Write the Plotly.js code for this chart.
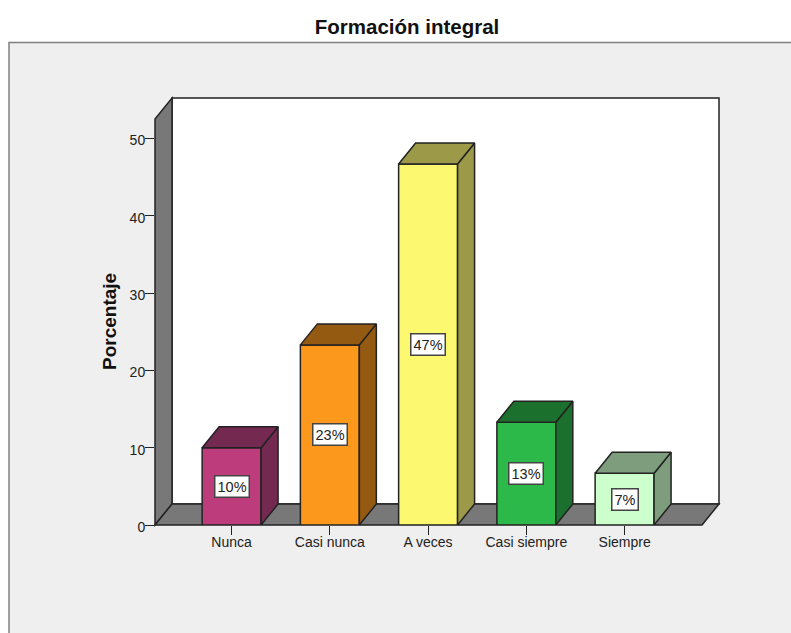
<!DOCTYPE html>
<html><head><meta charset="utf-8">
<script src="https://cdn.plot.ly/plotly-3.0.1.min.js"></script>
<style>html,body{margin:0;padding:0;background:#fff;overflow:hidden}</style>
</head><body><div id="chart" style="width:791px;height:633px"></div>
<script>
var categories = ["Nunca","Casi nunca","A veces","Casi siempre","Siempre"];
var values = [10, 23.3, 46.7, 13.3, 6.7];
var labels = ["10%","23%","47%","13%","7%"];
var frontColors = ["#bc3c7c","#fc991c","#fcf870","#2db84a","#ccffcc"];
var sideColors = ["#742a50","#955a12","#9c9a48","#1c702e","#7d9d7d"];
var yTicks = [0,10,20,30,40,50];

var W=791,H=633,L=155,R=719,T=98,B=525;
var pxCat=98.25, pxUnit=7.73, cx0=231.6, depthX=17, depthY=21, barW=0.6;
var dxU=depthX/pxCat, dyU=depthY/pxUnit;
var xs=categories.map(function(_,i){return i;});
var edge="#222222", wall="#787878";
var fx=depthX/(R-L), fy=depthY/(B-T);

var traces=[{type:"bar",x:xs,y:values,width:barW,
  marker:{color:frontColors,line:{color:edge,width:1.5}},hoverinfo:"skip",cliponaxis:false}];
xs.forEach(function(x,i){
  var v=values[i],a=x-barW/2,b=x+barW/2;
  traces.push({type:"scatter",mode:"lines",fill:"toself",fillcolor:sideColors[i],
    x:[b,b+dxU,b+dxU,b,b],y:[0,dyU,v+dyU,v,0],
    line:{color:edge,width:1.5},hoverinfo:"skip",cliponaxis:false});
  traces.push({type:"scatter",mode:"lines",fill:"toself",fillcolor:sideColors[i],
    x:[a,a+dxU,b+dxU,b,a],y:[v,v+dyU,v+dyU,v,v],
    line:{color:edge,width:1.5},hoverinfo:"skip",cliponaxis:false});
});

function poly(pts,fill){
  return {type:"path",xref:"paper",yref:"paper",layer:"below",fillcolor:fill,
    line:{color:edge,width:1.5},
    path:"M"+pts.map(function(p){return p[0]+","+p[1];}).join(" L")+" Z"};
}
var shapes=[
  {type:"rect",xref:"paper",yref:"paper",layer:"below",
   x0:(9-L)/(R-L),x1:(W+10-L)/(R-L),y0:(B-(H+10))/(B-T),y1:(B-42.5)/(B-T),
   fillcolor:"#efefef",line:{color:"#808080",width:1.5}},
  poly([[fx,fy],[1,fy],[1,1],[fx,1]],"#ffffff"),
  poly([[0,0],[fx,fy],[fx,1],[0,1-fy]],wall),
  poly([[0,0],[fx,fy],[1,fy],[1-fx,0]],wall)
];

var annotations=xs.map(function(x,i){
  return {x:x,y:values[i]/2,xref:"x",yref:"y",text:labels[i],showarrow:false,
    font:{family:"Liberation Sans",size:14.5,color:"#222"},
    bgcolor:"#ffffff",bordercolor:"#444444",borderwidth:1.5,borderpad:2};
});
annotations.push({xref:"paper",yref:"paper",x:(109-L)/(R-L),y:(B-322)/(B-T),xanchor:"center",yanchor:"middle",
  text:"Porcentaje",textangle:-90,showarrow:false,
  font:{family:"Liberation Sans",size:19,color:"#111",weight:"bold"}});

var layout={width:W,height:H,margin:{l:L,r:W-R,t:T,b:H-B,pad:0},
  paper_bgcolor:"#ffffff",plot_bgcolor:"rgba(0,0,0,0)",showlegend:false,
  title:{text:"Formación integral",x:407/W,xanchor:"center",y:1-27/H,yanchor:"middle",
    font:{family:"Liberation Sans",size:20.5,color:"#111",weight:"bold"}},
  xaxis:{range:[(L-cx0)/pxCat,(R-cx0)/pxCat],tickmode:"array",tickvals:xs,ticktext:categories,
    ticks:"outside",ticklen:9,tickwidth:1,tickcolor:edge,showgrid:false,zeroline:false,showline:false,
    ticklabelstandoff:-5,
    tickfont:{family:"Liberation Sans",size:14,color:"#222"}},
  yaxis:{range:[0,(B-T)/pxUnit],tickmode:"array",tickvals:yTicks,
    ticks:"outside",ticklen:9,tickwidth:1,tickcolor:edge,showgrid:false,zeroline:false,showline:false,
    ticklabelstandoff:-3,ticklabelshift:2,
    tickfont:{family:"Liberation Sans",size:14,color:"#222"}},
  shapes:shapes,annotations:annotations};
Plotly.newPlot("chart",traces,layout,{displayModeBar:false,responsive:false});
</script></body></html>
